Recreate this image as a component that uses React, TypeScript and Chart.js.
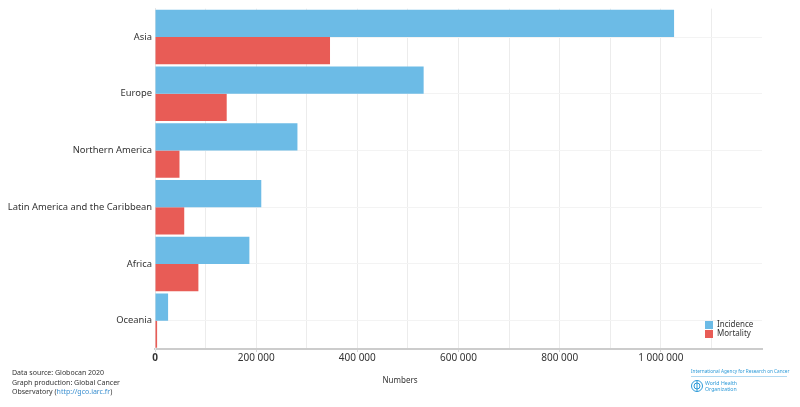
import React, { useEffect, useRef } from "react";
import { Chart, registerables } from "chart.js";

Chart.register(...registerables);

const categories = [
  "Asia",
  "Europe",
  "Northern America",
  "Latin America and the Caribbean",
  "Africa",
  "Oceania",
];
const incidence = [1026171, 531086, 281591, 210100, 186598, 25873];
const mortality = [346009, 141765, 48407, 57790, 85787, 4159];
const seriesNames = ["Incidence", "Mortality"];
const xTickStep = 100000;
const xLabelStep = 200000;
const xMax = 1200000;
const xTitle = "Numbers";
const sourceLines = ["Data source: Globocan 2020", "Graph production: Global Cancer", "Observatory ("];
const sourceLink = "http://gco.iarc.fr";
const iarcText = "International Agency for Research on Cancer";
const whoLines = ["World Health", "Organization"];

const BLUE = "rgb(108,187,230)";
const RED = "rgb(232,92,86)";
const FONT = "'Noto Sans', 'Open Sans', sans-serif";

const fmt = (v: number) => String(v).replace(/\B(?=(\d{3})+(?!\d))/g, " ");

const overlayPlugin = {
  id: "overlay",
  afterDraw(chart: any) {
    const ctx = chart.ctx;
    const area = chart.chartArea;
    ctx.save();
    // legend
    const lx = area.right - 57;
    const ly = area.bottom - 24;
    const colors = [BLUE, RED];
    ctx.font = `8px ${FONT}`;
    ctx.textBaseline = "middle";
    ctx.textAlign = "left";
    seriesNames.forEach((n, i) => {
      ctx.fillStyle = colors[i];
      ctx.fillRect(lx, ly + i * 9 - 4, 8, 8);
      ctx.fillStyle = "#333";
      ctx.fillText(n, lx + 12, ly + i * 9);
    });
    // axis title
    ctx.font = `8px ${FONT}`;
    ctx.fillStyle = "#333";
    ctx.textAlign = "center";
    ctx.fillText(xTitle, 400, 381);
    // source
    ctx.textAlign = "left";
    ctx.font = `7px ${FONT}`;
    ctx.fillStyle = "#333";
    ctx.fillText(sourceLines[0], 12, 373);
    ctx.fillText(sourceLines[1], 12, 382.5);
    ctx.fillText(sourceLines[2], 12, 392);
    let w = ctx.measureText(sourceLines[2]).width;
    ctx.fillStyle = "#3a8fd0";
    ctx.fillText(sourceLink, 12 + w, 392);
    w += ctx.measureText(sourceLink).width;
    ctx.fillStyle = "#333";
    ctx.fillText(")", 12 + w, 392);
    // IARC
    ctx.fillStyle = "#2d9ad8";
    ctx.font = `4.7px ${FONT}`;
    ctx.fillText(iarcText, 691, 372);
    ctx.strokeStyle = "#7cc0e8";
    ctx.lineWidth = 0.6;
    ctx.beginPath();
    ctx.moveTo(691, 376.5);
    ctx.lineTo(787, 376.5);
    ctx.stroke();
    // WHO emblem
    ctx.strokeStyle = "#2d9ad8";
    ctx.lineWidth = 1;
    ctx.beginPath();
    ctx.arc(697, 386, 5.5, 0, Math.PI * 2);
    ctx.stroke();
    ctx.beginPath();
    ctx.arc(697, 386, 3, 0, Math.PI * 2);
    ctx.stroke();
    ctx.beginPath();
    ctx.moveTo(697, 380.5);
    ctx.lineTo(697, 391.5);
    ctx.stroke();
    ctx.fillStyle = "#2d9ad8";
    ctx.font = `5.2px ${FONT}`;
    ctx.fillText(whoLines[0], 705, 383.5);
    ctx.fillText(whoLines[1], 705, 389.5);
    ctx.restore();
  },
};

export default function App() {
  const ref = useRef<HTMLCanvasElement | null>(null);
  useEffect(() => {
    document.body.style.margin = "0";
    const chart = new Chart(ref.current as HTMLCanvasElement, {
      type: "bar",
      data: {
        labels: categories,
        datasets: [
          { label: seriesNames[0], data: incidence, backgroundColor: BLUE, borderWidth: 0 },
          { label: seriesNames[1], data: mortality, backgroundColor: RED, borderWidth: 0 },
        ],
      },
      plugins: [overlayPlugin],
      options: {
        indexAxis: "y",
        animation: false,
        responsive: false,
        maintainAspectRatio: false,
        layout: { padding: { top: 8, right: 38, left: 0, bottom: 0 } },
        datasets: { bar: { categoryPercentage: 0.96, barPercentage: 1 } },
        plugins: { legend: { display: false }, tooltip: { enabled: false } },
        scales: {
          x: {
            min: 0,
            max: xMax,
            afterFit: (s: any) => {
              s.height = 58;
            },
            afterBuildTicks: (s: any) => {
              const t = [];
              for (let v = 0; v <= xMax; v += xTickStep) t.push({ value: v });
              s.ticks = t;
            },
            ticks: {
              autoSkip: false,
              maxRotation: 0,
              padding: 0,
              color: "#333",
              font: (c: any) => ({
                family: FONT,
                size: 10,
                weight: c.tick && c.tick.value === 0 ? "bold" : "normal",
              }),
              callback: (v: any) => {
                const n = Number(v);
                if (n === xMax) return "";
                return n % xLabelStep === 0 ? fmt(n) : "";
              },
            },
            grid: {
              color: (c: any) =>
                c.tick && c.tick.value === xMax ? "rgba(0,0,0,0)" : "#ececec",
              lineWidth: 1,
              drawTicks: true,
              tickLength: 3,
              tickColor: (c: any) =>
                c.tick && c.tick.value % xLabelStep === 0 && c.tick.value !== xMax
                  ? "#d6d6d6"
                  : "rgba(0,0,0,0)",
            },
            border: { display: true, color: "#cccccc", width: 2 },
          },
          y: {
            afterFit: (s: any) => {
              s.width = 155;
            },
            ticks: {
              color: "#333",
              padding: 3,
              font: { family: FONT, size: 9.4 },
            },
            grid: { offset: false, color: "#f3f3f3", drawTicks: false },
            border: { display: true, color: "#e6e6e6", width: 1 },
          },
        },
      },
    } as any);
    return () => chart.destroy();
  }, []);
  return (
    <div style={{ width: 800, height: 407, position: "relative", background: "#fff" }}>
      <canvas ref={ref} width={800} height={407} style={{ display: "block" }} />
    </div>
  );
}
